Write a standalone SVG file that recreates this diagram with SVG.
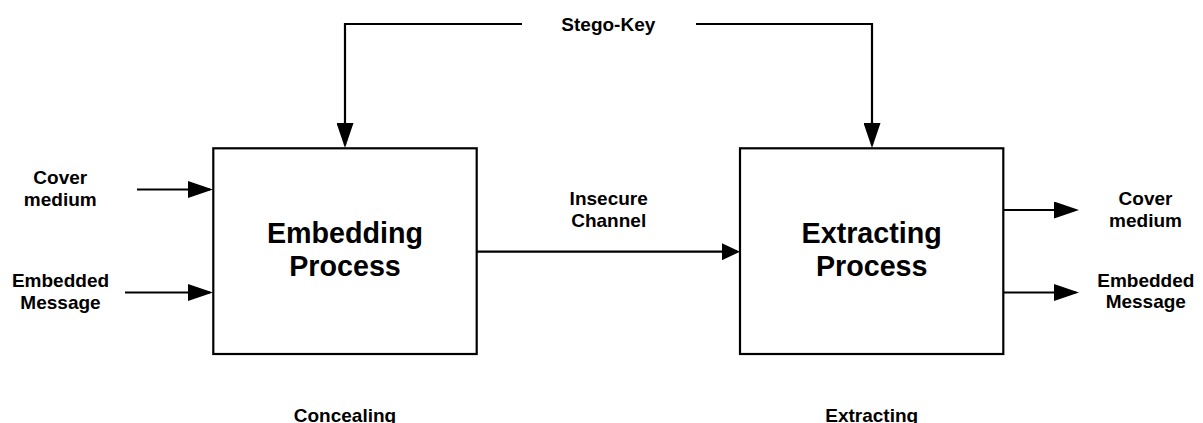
<svg xmlns="http://www.w3.org/2000/svg" width="1203" height="423" viewBox="0 0 1203 423">
  <style>
    .box { fill: #ffffff; stroke: #000000; stroke-width: 2.2; }
    .wire { fill: none; stroke: #000000; stroke-width: 2.2; }
    .label { font-family: "Liberation Sans", Arial, sans-serif; font-weight: bold; font-size: 19px; fill: #000000; text-anchor: middle; }
    .title { font-family: "Liberation Sans", Arial, sans-serif; font-weight: bold; font-size: 28.7px; fill: #000000; text-anchor: middle; }
  </style>
  <defs>
    <marker id="arrow" markerUnits="userSpaceOnUse" markerWidth="26" markerHeight="17" refX="22" refY="8.5" orient="auto">
      <path d="M0,0 L25,8.5 L0,17 Z" fill="#000000"/>
    </marker>
    <marker id="arrow-short" markerUnits="userSpaceOnUse" markerWidth="19" markerHeight="17" refX="15" refY="8.5" orient="auto">
      <path d="M0,0 L18,8.5 L0,17 Z" fill="#000000"/>
    </marker>
  </defs>
  <rect width="1203" height="423" fill="#ffffff"/>

  <!-- connectors -->
  <g id="connectors">
    <!-- stego-key feeds both processes -->
    <path class="wire" d="M522,24 H345 V145" marker-end="url(#arrow)"/>
    <path class="wire" d="M696,24 H872 V145" marker-end="url(#arrow)"/>
    <!-- inputs to embedding -->
    <path class="wire" d="M137,189.5 H210" marker-end="url(#arrow)"/>
    <path class="wire" d="M125,292.5 H210" marker-end="url(#arrow)"/>
    <!-- insecure channel -->
    <path class="wire" d="M477,251.7 H737" marker-end="url(#arrow-short)"/>
    <!-- outputs of extracting -->
    <path class="wire" d="M1003,210 H1076" marker-end="url(#arrow)"/>
    <path class="wire" d="M1003,292.5 H1076" marker-end="url(#arrow)"/>
  </g>

  <g id="embedding">
    <rect class="box" x="213.3" y="148.3" width="263.4" height="205.7"/>
    <text class="title" x="345" y="243.3">Embedding</text>
    <text class="title" x="345" y="276.3">Process</text>
  </g>

  <g id="extracting">
    <rect class="box" x="740" y="148.3" width="263.3" height="205.7"/>
    <text class="title" x="871.7" y="243.3">Extracting</text>
    <text class="title" x="871.7" y="276.3">Process</text>
  </g>

  <g id="stego-key">
    <text class="label" x="608.3" y="30.5">Stego-Key</text>
  </g>

  <g id="cover-in">
    <text class="label" x="60.3" y="184.3">Cover</text>
    <text class="label" x="60.3" y="206">medium</text>
  </g>

  <g id="message-in">
    <text class="label" x="60.5" y="287.3">Embedded</text>
    <text class="label" x="60.5" y="309">Message</text>
  </g>

  <g id="channel">
    <text class="label" x="608.7" y="205.3">Insecure</text>
    <text class="label" x="608.7" y="226.7">Channel</text>
  </g>

  <g id="cover-out">
    <text class="label" x="1145.5" y="205">Cover</text>
    <text class="label" x="1145.5" y="227">medium</text>
  </g>

  <g id="message-out">
    <text class="label" x="1145.8" y="286.7">Embedded</text>
    <text class="label" x="1145.8" y="308.3">Message</text>
  </g>

  <g id="concealing">
    <text class="label" x="345" y="422">Concealing</text>
  </g>

  <g id="extracting-stage">
    <text class="label" x="871.7" y="422">Extracting</text>
  </g>
</svg>
